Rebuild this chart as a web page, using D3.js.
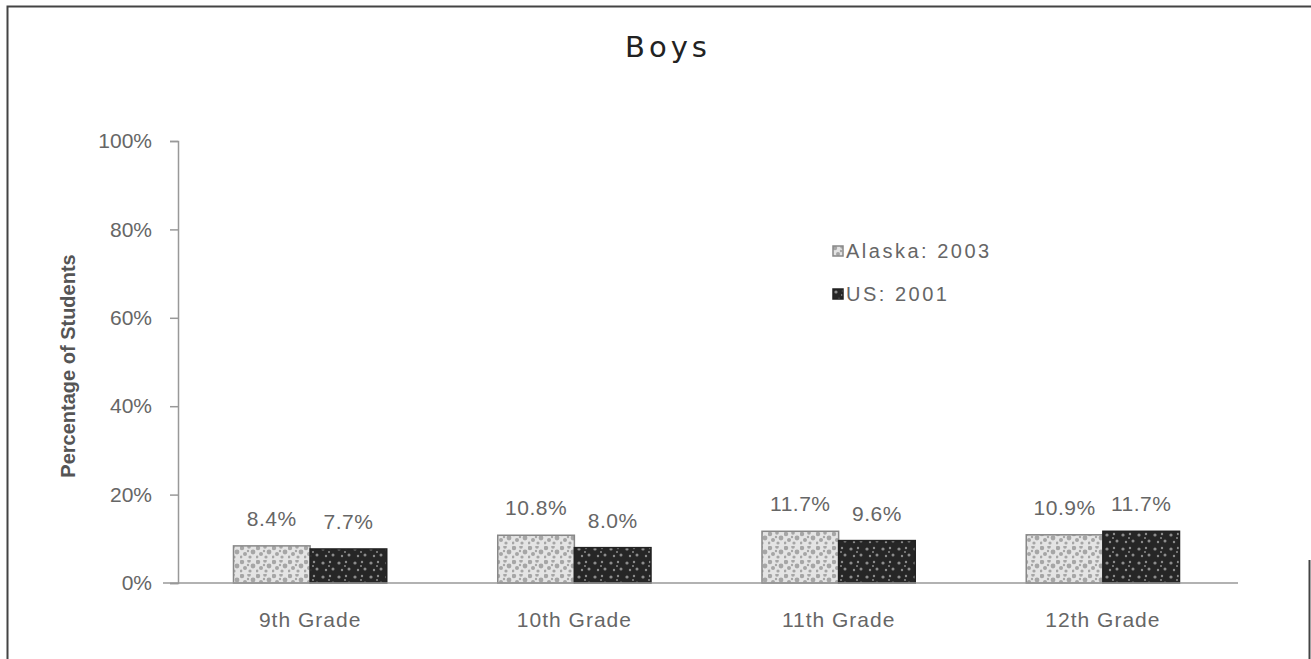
<!DOCTYPE html>
<html>
<head>
<meta charset="utf-8">
<script src="https://cdn.jsdelivr.net/npm/d3@7"></script>
<style>
  body { margin: 0; background: #fff; }
  svg { display: block; font-family: "Liberation Sans", Arial, sans-serif; }
</style>
</head>
<body>
<svg width="1311" height="659"></svg>
<script>
// chart data
var grades = ["9th Grade", "10th Grade", "11th Grade", "12th Grade"];
var seriesNames = ["Alaska: 2003", "US: 2001"];
var alaska = [8.4, 10.8, 11.7, 10.9];
var us = [7.7, 8.0, 9.6, 11.7];
var yTicks = [0, 20, 40, 60, 80, 100];

var svg = d3.select("svg");

// frame
svg.append("path")
    .attr("d", "M7.5,660 V6.5 H1311")
    .attr("fill", "none").attr("stroke", "#444").attr("stroke-width", 2);
svg.append("line")
    .attr("x1", 1309.5).attr("x2", 1309.5).attr("y1", 560).attr("y2", 660)
    .attr("stroke", "#444").attr("stroke-width", 2);

// speckle patterns (decorative fills)
var defs = svg.append("defs");
var pa = defs.append("pattern").attr("id", "pAlaska")
    .attr("patternUnits", "userSpaceOnUse").attr("width", 16).attr("height", 14);
pa.append("rect").attr("width", 16).attr("height", 14).attr("fill", "#e4e4e4");
[[2,2,2.2],[9,1,1.8],[13,6,2.4],[5,8,2],[10,11,1.6],[1,11,1.4],[8,5,1.2]].forEach(function(d) {
  pa.append("circle").attr("cx", d[0]).attr("cy", d[1]).attr("r", d[2]).attr("fill", "#a6a6a6");
});
var pu = defs.append("pattern").attr("id", "pUS")
    .attr("patternUnits", "userSpaceOnUse").attr("width", 16).attr("height", 14);
pu.append("rect").attr("width", 16).attr("height", 14).attr("fill", "#262626");
[[3,3,1.6],[10,2,1.2],[13,9,1.5],[6,10,1.2],[9,6,1]].forEach(function(d) {
  pu.append("circle").attr("cx", d[0]).attr("cy", d[1]).attr("r", d[2]).attr("fill", "#8c8c8c");
});

var x = d3.scaleBand().domain(grades)
    .range([178, 1235]).paddingInner(0.42).paddingOuter(0.21);
var xs = d3.scaleBand().domain(seriesNames).range([0, x.bandwidth()]);
var y = d3.scaleLinear().domain([0, 100]).range([583, 141]);

// title
svg.append("text").attr("x", 668).attr("y", 57).attr("text-anchor", "middle")
    .attr("font-family", "'DejaVu Sans', Verdana, sans-serif")
    .attr("font-size", 29).attr("fill", "#222").attr("letter-spacing", 4).text("Boys");

// y axis
var yAxis = svg.append("g").attr("transform", "translate(178,0)")
    .call(d3.axisLeft(y).tickValues(yTicks).tickFormat(function(d) { return d + "%"; })
      .tickSize(8).tickPadding(18));
yAxis.select(".domain").attr("stroke", "#999").attr("stroke-width", 1.5);
yAxis.selectAll(".tick line").attr("stroke", "#999").attr("stroke-width", 1.5);
yAxis.selectAll(".tick text").attr("font-size", 21).attr("fill", "#666")
    .attr("font-family", "'Liberation Sans', Arial, sans-serif");

svg.append("text")
    .attr("transform", "translate(75,366) rotate(-90)")
    .attr("text-anchor", "middle").attr("font-size", 20).attr("font-weight", "bold")
    .attr("fill", "#555").text("Percentage of Students");

// bars
var series = [
  {name: seriesNames[0], values: alaska, fill: "url(#pAlaska)", stroke: "#888"},
  {name: seriesNames[1], values: us, fill: "url(#pUS)", stroke: "#222"}
];

series.forEach(function(s) {
  var g = svg.append("g");
  g.selectAll("rect").data(s.values).enter().append("rect")
      .attr("x", function(d, i) { return x(grades[i]) + xs(s.name); })
      .attr("width", xs.bandwidth())
      .attr("y", function(d) { return y(d); })
      .attr("height", function(d) { return y(0) - y(d); })
      .attr("fill", s.fill).attr("stroke", s.stroke).attr("stroke-width", 1.5);
  g.selectAll("text").data(s.values).enter().append("text")
      .attr("x", function(d, i) { return x(grades[i]) + xs(s.name) + xs.bandwidth() / 2; })
      .attr("y", function(d) { return y(d) - 20; })
      .attr("text-anchor", "middle").attr("font-size", 21).attr("fill", "#666")
      .attr("letter-spacing", 0.5)
      .text(function(d) { return d.toFixed(1) + "%"; });
});

// x axis
var xAxis = svg.append("g").attr("transform", "translate(0," + y(0) + ")")
    .call(d3.axisBottom(x).tickSize(0).tickPadding(29));
xAxis.select(".domain").attr("stroke", "#999").attr("stroke-width", 1.5)
    .attr("d", "M163,0H1238");
xAxis.selectAll(".tick text").attr("font-size", 21).attr("fill", "#666")
    .attr("letter-spacing", 1)
    .attr("font-family", "'Liberation Sans', Arial, sans-serif");

// legend
var leg = svg.append("g").attr("transform", "translate(833,246)");
series.forEach(function(s, i) {
  var r = leg.append("g").attr("transform", "translate(0," + i * 43 + ")");
  r.append("rect").attr("width", 10).attr("height", 10)
      .attr("fill", s.fill).attr("stroke", s.stroke).attr("stroke-width", 1.5);
  r.append("text").attr("x", 13).attr("y", 12).attr("font-size", 20).attr("fill", "#666")
      .attr("letter-spacing", 2.5)
      .text(s.name);
});
</script>
</body>
</html>
